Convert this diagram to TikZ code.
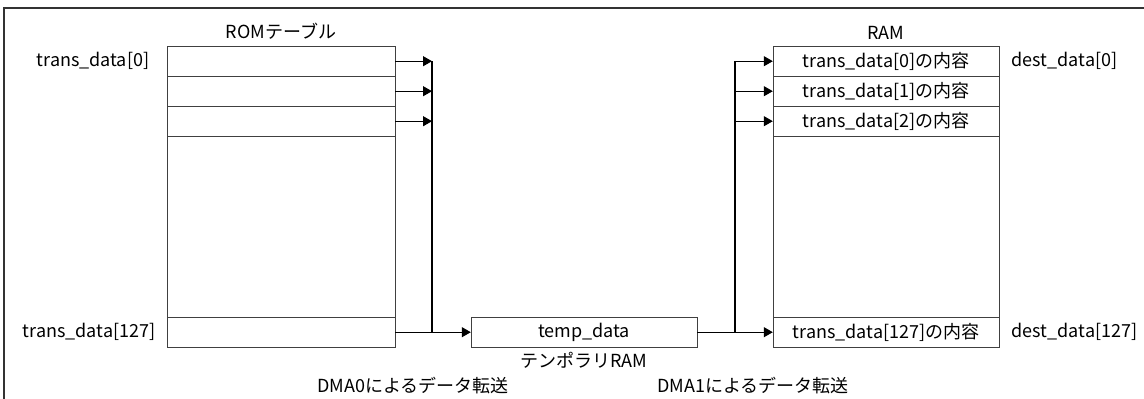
\documentclass[tikz,border=0pt]{standalone}
\usepackage{fontspec}
\setmainfont{Noto Sans CJK JP}
\usetikzlibrary{positioning,arrows.meta}

\begin{document}
\begin{tikzpicture}[x=1pt, y=-1pt, font=\fontsize{18}{21}\selectfont,
    cell/.style={draw=black!75, minimum width=228pt, minimum height=30pt, inner sep=0pt, anchor=north},
    arr/.style={-{Triangle[length=9pt,width=10pt]}, line width=1.2pt},
    bus/.style={line width=1.2pt}]
    \useasboundingbox (0,0) rectangle (1144,399);
    \draw[line width=1.5pt, black!80] (4,399) -- (4,8) -- (1144,8);

    % ROM table
    \node[cell] (rom0) at (281,46) {};
    \node[cell] (rom1) at (281,76) {};
    \node[cell] (rom2) at (281,106) {};
    \node[cell, minimum height=181pt] (romgap) at (281,136) {};
    \node[cell] (rom127) at (281,317) {};
    \node[above=3pt of rom0] (romtitle) {ROMテーブル};
    \node[left=14pt of rom0] (src0) {trans\_data[0]};
    \node[left=8pt of rom127] (src127) {trans\_data[127]};

    % temporary RAM
    \node[cell, minimum width=226pt] (temp) at (584,317) {temp\_data};
    \node[below=1pt of temp] (temptitle) {テンポラリRAM};

    % RAM
    \node[cell, minimum width=226pt] (ram0) at (886,46) {trans\_data[0]の内容};
    \node[cell, minimum width=226pt] (ram1) at (886,76) {trans\_data[1]の内容};
    \node[cell, minimum width=226pt] (ram2) at (886,106) {trans\_data[2]の内容};
    \node[cell, minimum width=226pt, minimum height=181pt] (ramgap) at (886,136) {};
    \node[cell, minimum width=226pt] (ram127) at (886,317) {trans\_data[127]の内容};
    \node[above=3pt of ram0] (ramtitle) {RAM};
    \node[right=9pt of ram0] (dst0) {dest\_data[0]};
    \node[right=9pt of ram127] (dst127) {dest\_data[127]};

    % DMA labels
    \node (dma0) at (413,386) {DMA0によるデータ転送};
    \node (dma1) at (753,386) {DMA1によるデータ転送};

    % buses
    \coordinate (busLtop) at (432,61);
    \coordinate (busRtop) at (735,61);
    \draw[bus] (busLtop) -- (busLtop |- rom127.east);
    \draw[bus] (busRtop) -- (busRtop |- ram127.west);
    \foreach \i in {0,1,2} {
        \draw[arr] (rom\i.east) -- (rom\i.east -| busLtop);
        \draw[arr] (ram\i.west -| busRtop) -- (ram\i.west);
    }
    \draw[arr] (rom127.east) -- (temp.west);
    \draw[arr] (temp.east) -- (ram127.west);
\end{tikzpicture}
\end{document}
